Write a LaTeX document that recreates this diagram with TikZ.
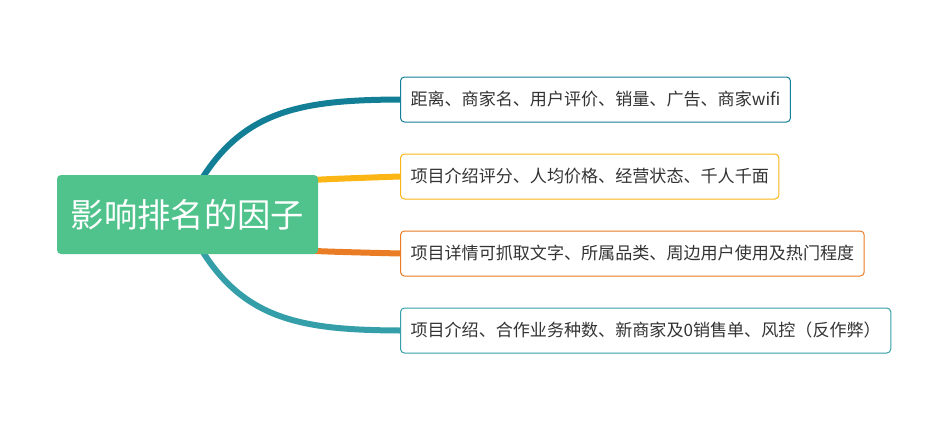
\documentclass[tikz,border=0pt]{standalone}
\usepackage{fontspec}
\setmainfont{Noto Sans CJK SC}
\usetikzlibrary{positioning, calc, backgrounds}
\definecolor{rootgreen}{HTML}{50C38D}
\definecolor{brteal}{HTML}{137F97}
\definecolor{bryellow}{HTML}{FBB515}
\definecolor{brorange}{HTML}{E97C24}
\definecolor{brcyan}{HTML}{349FA9}
\definecolor{leaftext}{HTML}{333333}
\tikzset{
  rootbox/.style={fill=rootgreen, rounded corners=3pt, minimum width=195.75pt, minimum height=59.25pt, inner sep=0pt, text=white, font=\fontsize{25}{30}\selectfont},
  leaf/.style={draw=#1, fill=white, rounded corners=3pt, line width=0.75pt, minimum height=33.75pt, inner xsep=7.5pt, inner ysep=0pt, text=leaftext, font=\fontsize{12.8}{15}\selectfont},
  branch/.style={draw=#1, line width=4.5pt, line cap=round},
}

\begin{document}
\begin{tikzpicture}[x=0.75pt, y=-0.75pt]
  \useasboundingbox (0,0) rectangle (943,425);
  \node[rootbox] (root) at (187.5,214.5) {影响排名的因子};
  \node[leaf=brteal, anchor=west] (b1) at (400,99.5) {距离、商家名、用户评价、销量、广告、商家wifi};
  \node[leaf=bryellow, below=23.25pt of b1.south west, anchor=north west] (b2) {项目介绍评分、人均价格、经营状态、千人千面};
  \node[leaf=brorange, below=23.25pt of b2.south west, anchor=north west] (b3) {项目详情可抓取文字、所属品类、周边用户使用及热门程度};
  \node[leaf=brcyan, below=23.25pt of b3.south west, anchor=north west] (b4) {项目介绍、合作业务种数、新商家及0销售单、风控（反作弊）};
  \begin{pgfonlayer}{background}
    \draw[branch=brteal] ($(root.center)+(8,-25)$) .. controls (240,110) and (300,100) .. (b1.west);
    \draw[branch=bryellow] ($(root.center)+(60,-28)$) .. controls (300,180) .. (b2.west);
    \draw[branch=brorange] ($(root.center)+(60,30)$) .. controls (300,251) .. (b3.west);
    \draw[branch=brcyan] ($(root.center)+(8,25)$) .. controls (240,320) and (300,330) .. (b4.west);
  \end{pgfonlayer}
\end{tikzpicture}
\end{document}
